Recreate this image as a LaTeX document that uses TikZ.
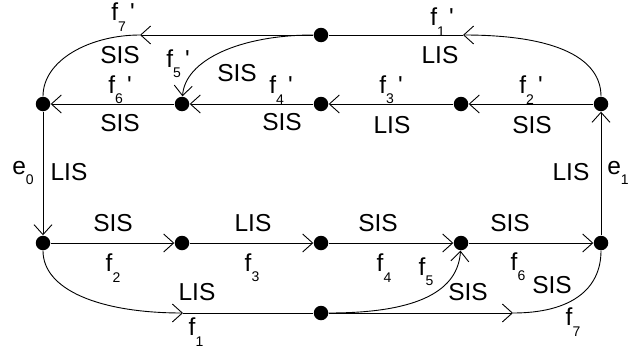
\documentclass[tikz,border=0pt]{standalone}
\usepackage{fontspec}
\setmainfont{Liberation Sans}
\usetikzlibrary{arrows.meta}
\newcommand{\sublbl}[3]{#1\raisebox{-0.8ex}{\fontsize{14}{14}\selectfont #2}#3}
\newcommand{\prm}{\,\textquotesingle}

\begin{document}
\begin{tikzpicture}[x=1pt,y=-1pt,font=\fontsize{24.5}{24.5}\selectfont,line width=0.9pt,
  dot/.style={circle,fill,inner sep=0pt,minimum size=14.5pt},
  tip/.style={-{Straight Barb[length=10pt,width=18pt,line width=0.9pt]}},
  lbl/.style={inner sep=0pt}]
\useasboundingbox (0,0) rectangle (629,356);
% nodes
\node[dot] (T) at (321,35) {};
\node[dot] (A) at (43,104) {};
\node[dot] (B) at (182,104) {};
\node[dot] (C) at (321,104) {};
\node[dot] (D) at (461,104) {};
\node[dot] (E) at (601,104) {};
\node[dot] (F) at (43,243) {};
\node[dot] (G) at (182,243) {};
\node[dot] (H) at (321,243) {};
\node[dot] (I) at (461,243) {};
\node[dot] (J) at (601,243) {};
\node[dot] (K) at (321,313) {};
\coordinate (t1) at (463,35);
\coordinate (t7) at (140,35);
\coordinate (b1) at (183,313);
\coordinate (b7) at (513,313);
% upper connectors
\draw[tip] (E) .. controls (601,60) and (560,35) .. (t1);
\draw (t1) -- (T);
\draw[tip] (T) -- (t7);
\draw (t7) .. controls (90,35) and (43,60) .. (A);
\draw[tip] (T) .. controls (240,35) and (185,60) .. (B);
\draw[tip] (B) -- (A);
\draw[tip] (C) -- (B);
\draw[tip] (D) -- (C);
\draw[tip] (E) -- (D);
% sides
\draw[tip] (A) -- (F);
\draw[tip] (J) -- (E);
% lower connectors
\draw[tip] (F) -- (G);
\draw[tip] (G) -- (H);
\draw[tip] (H) -- (I);
\draw[tip] (I) -- (J);
\draw[tip] (F) .. controls (43,290) and (100,313) .. (b1);
\draw (b1) -- (K);
\draw[tip] (K) .. controls (420,313) and (458,290) .. (I);
\draw[tip] (K) -- (b7);
\draw (b7) .. controls (570,313) and (601,290) .. (J);
% labels, upper part
\node[lbl] (l1) at (442,22) {\sublbl{f}{1}{\prm}};
\node[lbl] (l2) at (440,55) {LIS};
\node[lbl] (l3) at (123,17) {\sublbl{f}{7}{\prm}};
\node[lbl] (l4) at (120,55) {SIS};
\node[lbl] (l5) at (178,64) {\sublbl{f}{5}{\prm}};
\node[lbl] (l6) at (237,73) {SIS};
\node[lbl] (l7) at (120,90) {\sublbl{f}{6}{\prm}};
\node[lbl] (l8) at (120,123) {SIS};
\node[lbl] (l9) at (281,90) {\sublbl{f}{4}{\prm}};
\node[lbl] (l10) at (282,122) {SIS};
\node[lbl] (l11) at (391,90) {\sublbl{f}{3}{\prm}};
\node[lbl] (l12) at (392,125) {LIS};
\node[lbl] (l13) at (531,90) {\sublbl{f}{2}{\prm}};
\node[lbl] (l14) at (532,125) {SIS};
% labels, sides
\node[lbl] (l15) at (23,173) {\sublbl{e}{0}{}};
\node[lbl] (l16) at (69,172) {LIS};
\node[lbl] (l17) at (571,172) {LIS};
\node[lbl] (l18) at (618,173) {\sublbl{e}{1}{}};
% labels, lower part
\node[lbl] (l19) at (113,223) {SIS};
\node[lbl] (l20) at (113,268) {\sublbl{f}{2}{}};
\node[lbl] (l21) at (253,223) {LIS};
\node[lbl] (l22) at (252,268) {\sublbl{f}{3}{}};
\node[lbl] (l23) at (378,223) {SIS};
\node[lbl] (l24) at (384,268) {\sublbl{f}{4}{}};
\node[lbl] (l25) at (426,272) {\sublbl{f}{5}{}};
\node[lbl] (l26) at (468,292) {SIS};
\node[lbl] (l27) at (510,223) {SIS};
\node[lbl] (l28) at (518,267) {\sublbl{f}{6}{}};
\node[lbl] (l29) at (552,285) {SIS};
\node[lbl] (l30) at (573,322) {\sublbl{f}{7}{}};
\node[lbl] (l31) at (197,292) {LIS};
\node[lbl] (l32) at (196,332) {\sublbl{f}{1}{}};
\end{tikzpicture}
\end{document}
